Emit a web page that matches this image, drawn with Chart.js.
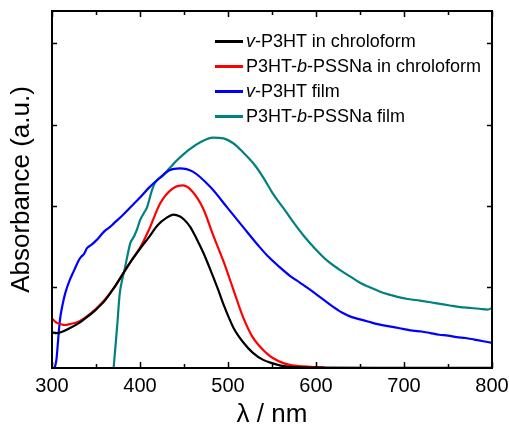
<!DOCTYPE html>
<html>
<head>
<meta charset="utf-8">
<script src="https://cdn.jsdelivr.net/npm/chart.js@4/dist/chart.umd.min.js"></script>
<style>
    html, body { margin: 0; padding: 0; background: #fff; }
    #wrap { position: relative; width: 509px; height: 428px; }
    #legend { position: absolute; left: 215px; top: 29px; font: 18px 'Liberation Sans', Arial, sans-serif; color: #000; }
    #legend .row { height: 25px; display: flex; align-items: center; white-space: nowrap; }
    #legend .swatch { display: inline-block; width: 28px; height: 3px; margin-right: 3px; }
</style>
</head>
<body>
<div id="wrap">
    <canvas id="absChart" width="509" height="428"></canvas>
    <div id="legend"></div>
</div>
<script>
// UV-vis spectra, wavelength (nm) / absorbance (a.u.)
const seriesLabels = [
    '<i>v</i>-P3HT in chroloform',
    'P3HT-<i>b</i>-PSSNa in chroloform',
    '<i>v</i>-P3HT film',
    'P3HT-<i>b</i>-PSSNa film'
];
const seriesColors = ['#000000', '#ff0000', '#0000ff', '#008080'];

const solP3htX = [300, 305, 310, 320, 330, 340, 350, 360, 370, 380, 390, 400, 410, 420, 430, 438, 445, 450, 457, 464, 472, 480, 489, 495, 506, 517, 528, 540, 550, 560, 575, 600, 700, 800];
const solP3htY = [0.44, 0.43, 0.44, 0.49, 0.55, 0.63, 0.72, 0.83, 0.98, 1.15, 1.32, 1.47, 1.61, 1.76, 1.85, 1.89, 1.87, 1.83, 1.74, 1.60, 1.42, 1.21, 0.96, 0.78, 0.50, 0.32, 0.19, 0.10, 0.06, 0.03, 0.01, 0.005, 0.003, 0.002];

const solBlockX = [300, 305, 310, 315, 320, 330, 340, 350, 360, 370, 380, 390, 400, 410, 423, 437, 449, 460, 472, 483, 495, 506, 517, 528, 544, 550, 563, 570, 585, 600, 610];
const solBlockY = [0.61, 0.56, 0.54, 0.53, 0.54, 0.57, 0.64, 0.73, 0.84, 0.98, 1.15, 1.32, 1.48, 1.70, 2.03, 2.21, 2.25, 2.17, 1.96, 1.64, 1.31, 0.97, 0.63, 0.38, 0.18, 0.13, 0.06, 0.04, 0.02, 0.01, 0.005];

const filmP3htX = [303, 305, 307, 309, 312, 315, 320, 325, 330, 333, 336, 340, 345, 350, 355, 360, 366, 370, 380, 390, 400, 410, 420, 434, 445, 460, 480, 499, 517, 536, 546, 559, 570, 582, 590, 600, 610, 620, 630, 640, 650, 660, 670, 680, 690, 700, 710, 720, 730, 740, 750, 760, 770, 780, 790, 800];
const filmP3htY = [0, 0.10, 0.35, 0.59, 0.78, 0.92, 1.08, 1.20, 1.32, 1.37, 1.40, 1.48, 1.52, 1.57, 1.63, 1.69, 1.74, 1.78, 1.88, 1.99, 2.10, 2.22, 2.32, 2.44, 2.46, 2.42, 2.23, 1.98, 1.74, 1.49, 1.37, 1.24, 1.14, 1.05, 0.99, 0.91, 0.83, 0.75, 0.68, 0.63, 0.60, 0.57, 0.54, 0.52, 0.50, 0.48, 0.46, 0.45, 0.43, 0.41, 0.40, 0.38, 0.37, 0.35, 0.33, 0.31];

const filmBlockX = [370, 372, 374, 377, 380, 383, 386, 389, 392, 394, 397, 400, 405, 408, 413, 416, 419, 425, 430, 436, 442, 450, 457, 468, 483, 495, 506, 517, 529, 540, 551, 563, 574, 586, 599, 612, 627, 640, 650, 660, 673, 685, 695, 705, 718, 730, 741, 752, 764, 775, 786, 795, 800];
const filmBlockY = [0, 0.25, 0.51, 0.92, 1.10, 1.24, 1.40, 1.54, 1.60, 1.64, 1.72, 1.82, 1.92, 1.98, 2.17, 2.26, 2.31, 2.36, 2.42, 2.49, 2.56, 2.64, 2.70, 2.78, 2.84, 2.83, 2.77, 2.66, 2.52, 2.35, 2.15, 1.97, 1.80, 1.63, 1.47, 1.33, 1.21, 1.12, 1.05, 1.00, 0.94, 0.90, 0.87, 0.85, 0.83, 0.81, 0.79, 0.77, 0.75, 0.74, 0.73, 0.72, 0.74];

const xTickValues = [300, 350, 400, 450, 500, 550, 600, 650, 700, 750, 800];
const yTickValues = [1, 2, 3, 4];

const FONT = "'Liberation Sans', Arial, sans-serif";

function toPoints(xs, ys) {
    return xs.map((x, i) => ({ x: x, y: ys[i] }));
}

// frame + inward ticks on all four sides
const frameTicks = {
    id: 'frameTicks',
    afterDraw(chart) {
        const { ctx, chartArea: a, scales: { x, y } } = chart;
        ctx.save();
        ctx.strokeStyle = '#000';
        ctx.lineWidth = 1.5;
        xTickValues.forEach(v => {
            const px = Math.round(x.getPixelForValue(v)) + 0.5;
            const len = v % 100 === 0 ? 6 : 4;
            ctx.beginPath();
            ctx.moveTo(px, a.bottom); ctx.lineTo(px, a.bottom - len);
            ctx.moveTo(px, a.top); ctx.lineTo(px, a.top + len);
            ctx.stroke();
        });
        yTickValues.forEach(v => {
            const py = Math.round(y.getPixelForValue(v)) + 0.5;
            ctx.beginPath();
            ctx.moveTo(a.left, py); ctx.lineTo(a.left + 5, py);
            ctx.moveTo(a.right, py); ctx.lineTo(a.right - 5, py);
            ctx.stroke();
        });
        ctx.lineWidth = 2;
        ctx.strokeRect(a.left, a.top, a.right - a.left, a.bottom - a.top);
        ctx.restore();
    }
};

const datasets = [
    [solP3htX, solP3htY],
    [solBlockX, solBlockY],
    [filmP3htX, filmP3htY],
    [filmBlockX, filmBlockY]
].map(([xs, ys], i) => ({
    label: seriesLabels[i],
    data: toPoints(xs, ys),
    borderColor: seriesColors[i],
    backgroundColor: seriesColors[i],
    borderWidth: 2.2,
    pointRadius: 0,
    cubicInterpolationMode: 'monotone',
    fill: false
}));

const absChart = new Chart(document.getElementById('absChart'), {
    type: 'line',
    data: { datasets: datasets },
    options: {
        responsive: false,
        animation: false,
        devicePixelRatio: 1,
        layout: { padding: { top: 11, right: 17, left: 0, bottom: 0 } },
        plugins: { legend: { display: false }, tooltip: { enabled: false } },
        scales: {
            x: {
                type: 'linear',
                min: 300,
                max: 800,
                grid: { display: false, drawTicks: false },
                border: { display: false },
                ticks: { stepSize: 100, color: '#000', font: { family: FONT, size: 20 }, padding: 6 },
                title: { display: true, text: 'λ / nm', color: '#000', font: { family: FONT, size: 26 }, padding: { top: 0, bottom: -2 } },
                afterFit: s => { s.height = 60; s.paddingLeft = 0; s.paddingRight = 0; }
            },
            y: {
                min: 0,
                max: 4.4,
                grid: { display: false, drawTicks: false },
                border: { display: false },
                ticks: { display: false, stepSize: 1 },
                title: { display: true, text: 'Absorbance (a.u.)', color: '#000', font: { family: FONT, size: 26 }, padding: { top: 6, bottom: 0 } },
                afterFit: s => { s.width = 52; }
            }
        }
    },
    plugins: [frameTicks]
});

document.getElementById('legend').innerHTML = absChart.data.datasets.map(d =>
    `<div class="row"><span class="swatch" style="background:${d.borderColor}"></span><span>${d.label}</span></div>`
).join('');
</script>
</body>
</html>
